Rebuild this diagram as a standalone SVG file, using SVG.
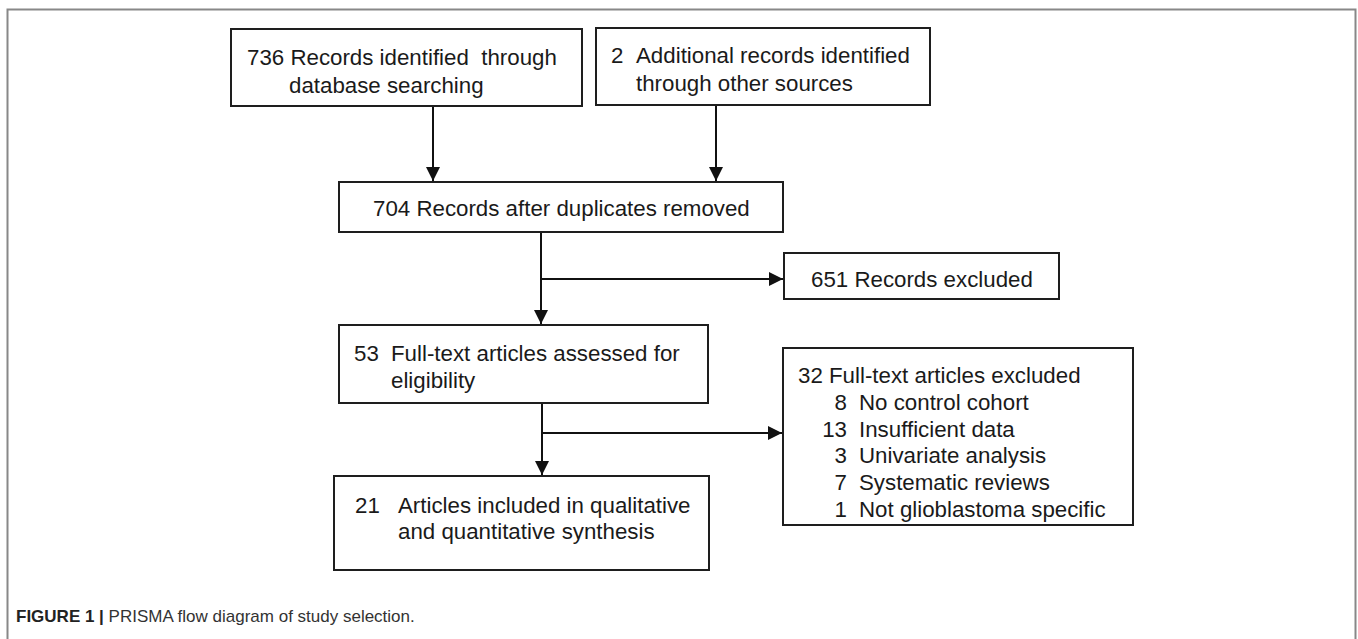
<svg xmlns="http://www.w3.org/2000/svg" width="1358" height="639" viewBox="0 0 1358 639">
<defs>
<marker id="ah" markerWidth="14" markerHeight="14" refX="14" refY="7" orient="auto" markerUnits="userSpaceOnUse">
<path d="M0,0 L14,7 L0,14 Z" fill="#111"/>
</marker>
<style>
.box{fill:#fff;stroke:#1e1e1e;stroke-width:2}
.t{font-family:"Liberation Sans",Arial,sans-serif;font-size:22.3px;fill:#1a1a1a}
.c{stroke:#111;stroke-width:2;fill:none}
.cap{font-family:"Liberation Sans",Arial,sans-serif;font-size:17px;fill:#333}
</style>
</defs>
<rect x="0" y="0" width="1358" height="639" fill="#fff"/>
<path d="M7.5,650 L7.5,9.5 L1355.5,9.5 L1355.5,650" fill="none" stroke="#888" stroke-width="2"/>

<g id="n1"><rect class="box" x="231" y="29" width="351" height="77"/>
<text class="t" x="247" y="65" xml:space="preserve">736 Records identified  through</text>
<text class="t" x="289" y="93">database searching</text></g>

<g id="n2"><rect class="box" x="596" y="28" width="334" height="77"/>
<text class="t" x="611" y="63">2</text>
<text class="t" x="636" y="63">Additional records identified</text>
<text class="t" x="636" y="91">through other sources</text></g>

<g id="n3"><rect class="box" x="339" y="182" width="444" height="50"/>
<text class="t" x="373" y="216">704 Records after duplicates removed</text></g>

<g id="n4"><rect class="box" x="784" y="253" width="275" height="46"/>
<text class="t" x="811" y="287">651 Records excluded</text></g>

<g id="n5"><rect class="box" x="339" y="325" width="369" height="78"/>
<text class="t" x="354" y="361">53</text>
<text class="t" x="391" y="361">Full-text articles assessed for</text>
<text class="t" x="391" y="388">eligibility</text></g>

<g id="n6"><rect class="box" x="783" y="348" width="350" height="177"/>
<text class="t" x="798" y="383">32 Full-text articles excluded</text>
<text class="t" x="847" y="410" text-anchor="end">8</text><text class="t" x="859" y="410">No control cohort</text>
<text class="t" x="847" y="437" text-anchor="end">13</text><text class="t" x="859" y="437">Insufficient data</text>
<text class="t" x="847" y="463" text-anchor="end">3</text><text class="t" x="859" y="463">Univariate analysis</text>
<text class="t" x="847" y="490" text-anchor="end">7</text><text class="t" x="859" y="490">Systematic reviews</text>
<text class="t" x="847" y="517" text-anchor="end">1</text><text class="t" x="859" y="517">Not glioblastoma specific</text></g>

<g id="n7"><rect class="box" x="334" y="476" width="375" height="94"/>
<text class="t" x="355" y="513">21</text>
<text class="t" x="398" y="513">Articles included in qualitative</text>
<text class="t" x="398" y="539">and quantitative synthesis</text></g>

<g id="connectors">
<line class="c" x1="433" y1="107" x2="433" y2="181" marker-end="url(#ah)"/>
<line class="c" x1="716" y1="106" x2="716" y2="181" marker-end="url(#ah)"/>
<line class="c" x1="541" y1="233" x2="541" y2="324" marker-end="url(#ah)"/>
<line class="c" x1="541" y1="279" x2="783" y2="279" marker-end="url(#ah)"/>
<line class="c" x1="542" y1="404" x2="542" y2="475" marker-end="url(#ah)"/>
<line class="c" x1="542" y1="433" x2="782" y2="433" marker-end="url(#ah)"/>
</g>

<text class="cap" x="16" y="622"><tspan font-weight="bold" fill="#222">FIGURE 1 |</tspan> PRISMA flow diagram of study selection.</text>
</svg>
